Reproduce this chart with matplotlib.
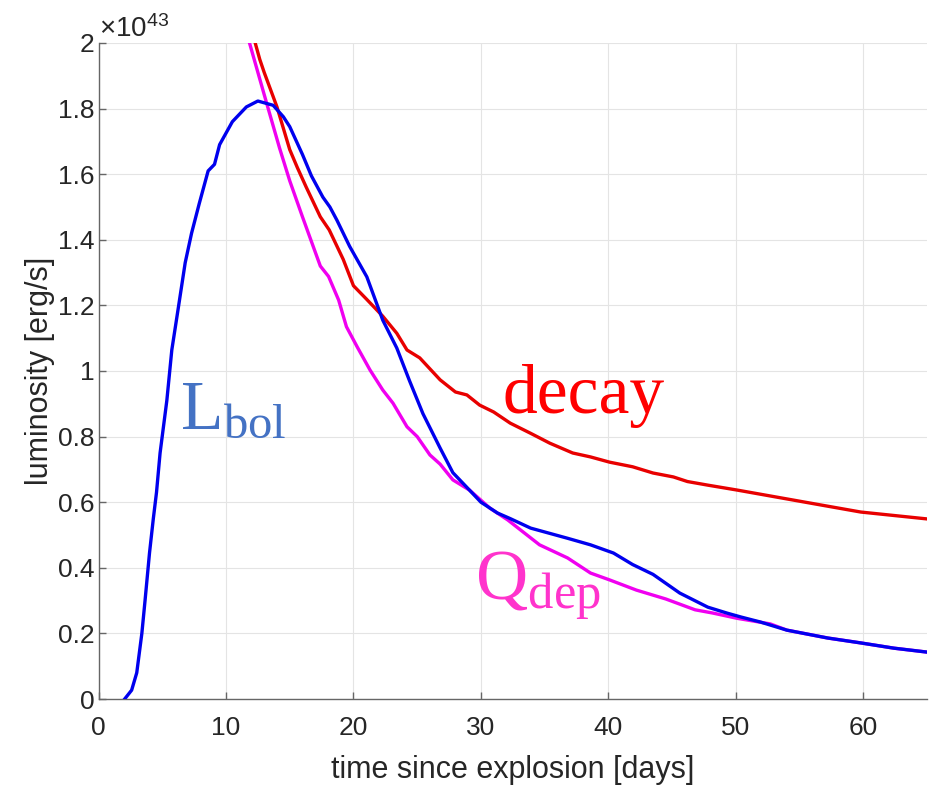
import numpy as np
import matplotlib
matplotlib.use("Agg")
import matplotlib.pyplot as plt
from matplotlib.ticker import FuncFormatter, MultipleLocator

plt.rcParams['font.family'] = ['Liberation Sans', 'DejaVu Sans']
plt.rcParams['mathtext.fontset'] = 'custom'
plt.rcParams['mathtext.rm'] = 'Liberation Serif'
plt.rcParams['mathtext.it'] = 'Liberation Serif:italic'

SCALE = 1e43  # erg/s

# bolometric luminosity (units of 1e43 erg/s)
lbol_t = [2.05, 2.6, 3.0, 3.4, 3.65, 4.0, 4.3, 4.55, 4.83, 5.36, 5.75, 6.27, 6.8,
          7.3, 7.9, 8.6, 9.1, 9.5, 10.5, 11.6, 12.5, 13.7, 14.5, 15.0, 16.0, 16.7,
          17.6, 18.15, 18.7, 19.7, 21.05, 22.3, 23.4, 24.4, 25.45, 26.8, 27.8,
          29.1, 30.0, 31.3, 32.3, 33.9, 36.8, 38.6, 40.4, 41.9, 43.5, 45.6, 47.8,
          49.3, 50.4, 51.9, 54.0, 57.2, 59.8, 62.4, 65.0]
lbol = [0.0, 0.027, 0.08, 0.2, 0.30, 0.445, 0.55, 0.63, 0.75, 0.91, 1.064, 1.195,
        1.33, 1.42, 1.51, 1.61, 1.63, 1.69, 1.76, 1.805, 1.823, 1.81, 1.775,
        1.745, 1.66, 1.595, 1.53, 1.50, 1.46, 1.38, 1.287, 1.155, 1.07, 0.97,
        0.87, 0.765, 0.69, 0.637, 0.60, 0.567, 0.55, 0.521, 0.49, 0.47, 0.445,
        0.41, 0.38, 0.323, 0.28, 0.262, 0.25, 0.235, 0.21, 0.186, 0.171, 0.155,
        0.143]

# radioactive decay power
decay_t = [12.15, 12.65, 13.0, 14.0, 15.0, 15.6, 16.3, 17.4, 18.1, 19.2, 20.0,
           21.05, 22.3, 23.4, 24.2, 25.2, 26.8, 28.0, 28.9, 29.9, 31.0, 32.3,
           33.9, 35.4, 37.2, 38.6, 40.1, 41.9, 43.5, 45.1, 46.2, 47.8, 50.1,
           54.0, 56.6, 59.8, 65.0]
decay = [2.02, 1.95, 1.91, 1.805, 1.675, 1.62, 1.56, 1.47, 1.43, 1.34, 1.26,
         1.218, 1.167, 1.115, 1.064, 1.04, 0.973, 0.936, 0.927, 0.896, 0.875,
         0.841, 0.81, 0.78, 0.75, 0.738, 0.722, 0.708, 0.689, 0.677, 0.663,
         0.652, 0.637, 0.61, 0.592, 0.57, 0.549]

# deposited energy
qdep_t = [11.7, 13.2, 14.2, 15.0, 16.0, 17.4, 18.05, 18.84, 19.45, 20.3, 21.3,
          22.3, 23.1, 24.2, 25.0, 26.0, 26.8, 27.8, 29.1, 30.7, 32.1, 34.6,
          36.8, 38.6, 40.1, 42.2, 44.5, 46.8, 48.2, 50.1, 52.7, 54.0, 57.2,
          59.8, 62.4, 65.0]
qdep = [2.02, 1.815, 1.68, 1.58, 1.47, 1.32, 1.288, 1.216, 1.135, 1.073, 1.003,
        0.942, 0.902, 0.83, 0.80, 0.744, 0.716, 0.668, 0.637, 0.582, 0.546,
        0.47, 0.43, 0.384, 0.363, 0.332, 0.305, 0.272, 0.262, 0.246, 0.229,
        0.21, 0.186, 0.171, 0.155, 0.143]

fig = plt.figure(figsize=(9.32, 7.87), dpi=100)
ax = fig.add_axes([0.1057, 0.1118, 0.889, 0.8336])

lw = 2.4
ax.plot(lbol_t, np.array(lbol) * SCALE, color='#0000EE', lw=lw, zorder=4)
ax.plot(decay_t, np.array(decay) * SCALE, color='#E80000', lw=lw, zorder=3)
ax.plot(qdep_t, np.array(qdep) * SCALE, color='#F000F0', lw=lw, zorder=3)

ax.set_xlim(0, 65)
ax.set_ylim(0, 2 * SCALE)
ax.xaxis.set_major_locator(MultipleLocator(10))
ax.yaxis.set_major_locator(MultipleLocator(0.2 * SCALE))
ax.yaxis.set_major_formatter(FuncFormatter(lambda v, p: f'{v / SCALE:g}'))

ax.grid(True, color='#e4e4e4', lw=0.8)
ax.set_axisbelow(True)
for s in ['top', 'right']:
    ax.spines[s].set_visible(False)
for s in ['left', 'bottom']:
    ax.spines[s].set_color('#666666')
    ax.spines[s].set_linewidth(1.0)
ax.tick_params(direction='in', length=5, width=1, color='#666666',
               labelsize=19, labelcolor='#262626')
ax.tick_params(axis='x', pad=12)
ax.tick_params(axis='y', pad=3)

ax.set_xlabel('time since explosion [days]', fontsize=22, color='#262626', labelpad=11)
ax.set_ylabel('luminosity [erg/s]', fontsize=22, color='#262626', labelpad=2)

ax.text(0.0, 1.0, r'$\mathregular{\times10^{43}}$', transform=ax.transAxes,
        fontsize=20, color='#262626', ha='left', va='bottom')

ax.text(6.4, 0.826 * SCALE, r'$\mathrm{L}_{\mathrm{bol}}$', fontsize=50,
        color='#4472C4', ha='left', va='baseline', zorder=5)
ax.text(31.7, 0.872 * SCALE, 'decay', fontsize=50, family='Liberation Serif',
        color='#FF0000', ha='left', va='baseline', zorder=5)
ax.text(29.5, 0.302 * SCALE, r'$\mathrm{Q}_{\mathrm{dep}}$', fontsize=52,
        color='#FF33CC', ha='left', va='baseline', zorder=5)

fig.savefig('out.png', dpi=100)
